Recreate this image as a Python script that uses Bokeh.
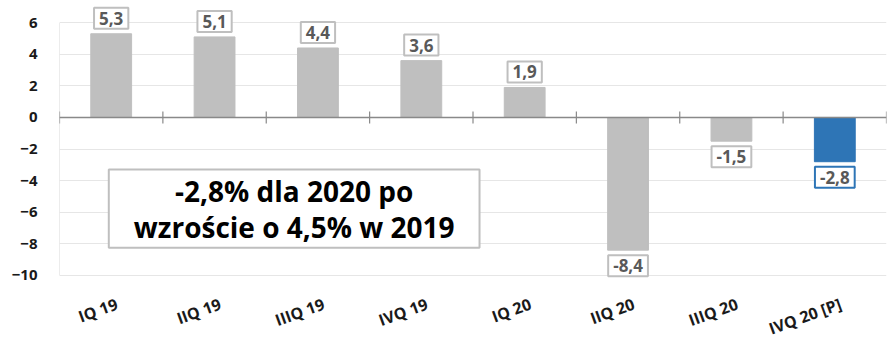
from bokeh.plotting import figure
from bokeh.models import ColumnDataSource, FixedTicker, Label, Span, Range1d
from bokeh.core.properties import value
from bokeh.embed import file_html
from bokeh.resources import INLINE

# Quarterly GDP growth (% y/y)
quarters = ["IQ 19", "IIQ 19", "IIIQ 19", "IVQ 19", "IQ 20", "IIQ 20", "IIIQ 20", "IVQ 20 [P]"]
growth = [5.3, 5.1, 4.4, 3.6, 1.9, -8.4, -1.5, -2.8]
y_ticks = [-10, -8, -6, -4, -2, 0, 2, 4, 6]
note_text = "-2,8% dla 2020 po\nwzroście o 4,5% w 2019"

GRAY = "#bfbfbf"
BLUE = "#2e75b6"
FONT = "Open Sans"

n = len(quarters)
xs = [i + 0.5 for i in range(n)]
bar_colors = [BLUE if q.endswith("[P]") else GRAY for q in quarters]

# the frame fills the whole height; rotated category names sit under -10
p = figure(width=887, height=344, output_backend="svg", toolbar_location=None,
           x_range=Range1d(0, n), y_range=Range1d(-14.37, 7.405),
           min_border_left=59, min_border_right=1, min_border_top=0,
           min_border_bottom=0, x_axis_location=None)
p.outline_line_color = None
p.background_fill_color = "white"

# value axis
p.yaxis.ticker = FixedTicker(ticks=y_ticks)
p.yaxis.axis_line_color = None
p.yaxis.major_tick_line_color = None
p.yaxis.minor_tick_line_color = None
p.yaxis.major_label_standoff = 16
p.yaxis.major_label_text_font = FONT
p.yaxis.major_label_text_font_style = "bold"
p.yaxis.major_label_text_font_size = "15px"
p.yaxis.major_label_text_color = "#1a1a1a"
p.ygrid.ticker = FixedTicker(ticks=y_ticks)
p.ygrid.grid_line_color = "#e6e6e6"
p.ygrid.grid_line_width = 1
p.xgrid.grid_line_color = None
p.segment(x0=[0], x1=[0], y0=[y_ticks[0]], y1=[y_ticks[-1]],
          line_color="#d9d9d9", line_width=1)

# bars
src = ColumnDataSource(dict(x=xs, top=growth, color=bar_colors, name=quarters,
                            name_y=[y_ticks[0] - 1.1] * n))
p.vbar(x="x", top="top", bottom=0, width=0.395, color="color", source=src)

# rotated category names
p.text(x="x", y="name_y", text="name", source=src, angle=0.35, x_offset=2,
       text_align="right", text_baseline="top", text_font=value(FONT),
       text_font_style="bold", text_font_size="16px", text_color="#1a1a1a")

# zero line with category separators
p.add_layout(Span(location=0, dimension="width", line_color="#898989", line_width=1.5))
bounds = list(range(n + 1))
p.segment(x0=bounds, x1=bounds, y0=[-0.38] * len(bounds), y1=[0.38] * len(bounds),
          line_color="#898989", line_width=1.2)

# value labels in boxes
for x, v, c in zip(xs, growth, bar_colors):
    up = v >= 0
    p.add_layout(Label(x=x, y=v, text=f"{v:.1f}".replace(".", ","),
                       y_offset=5 if up else -5,
                       text_baseline="bottom" if up else "top", text_align="center",
                       text_font=FONT, text_font_style="bold", text_font_size="17px",
                       text_color="#595959", background_fill_color="white",
                       border_line_color=c, border_line_width=2, padding=(5, 4)))

# summary note
p.add_layout(Label(x=2.27, y=-5.77, text=note_text, text_align="center",
                   text_baseline="middle", text_font=FONT, text_font_style="bold",
                   text_font_size="28px", text_color="black", text_line_height=0.95,
                   background_fill_color="white", border_line_color=GRAY,
                   border_line_width=2, padding=(25, 2)))

open("out.html", "w").write(file_html(p, INLINE))
